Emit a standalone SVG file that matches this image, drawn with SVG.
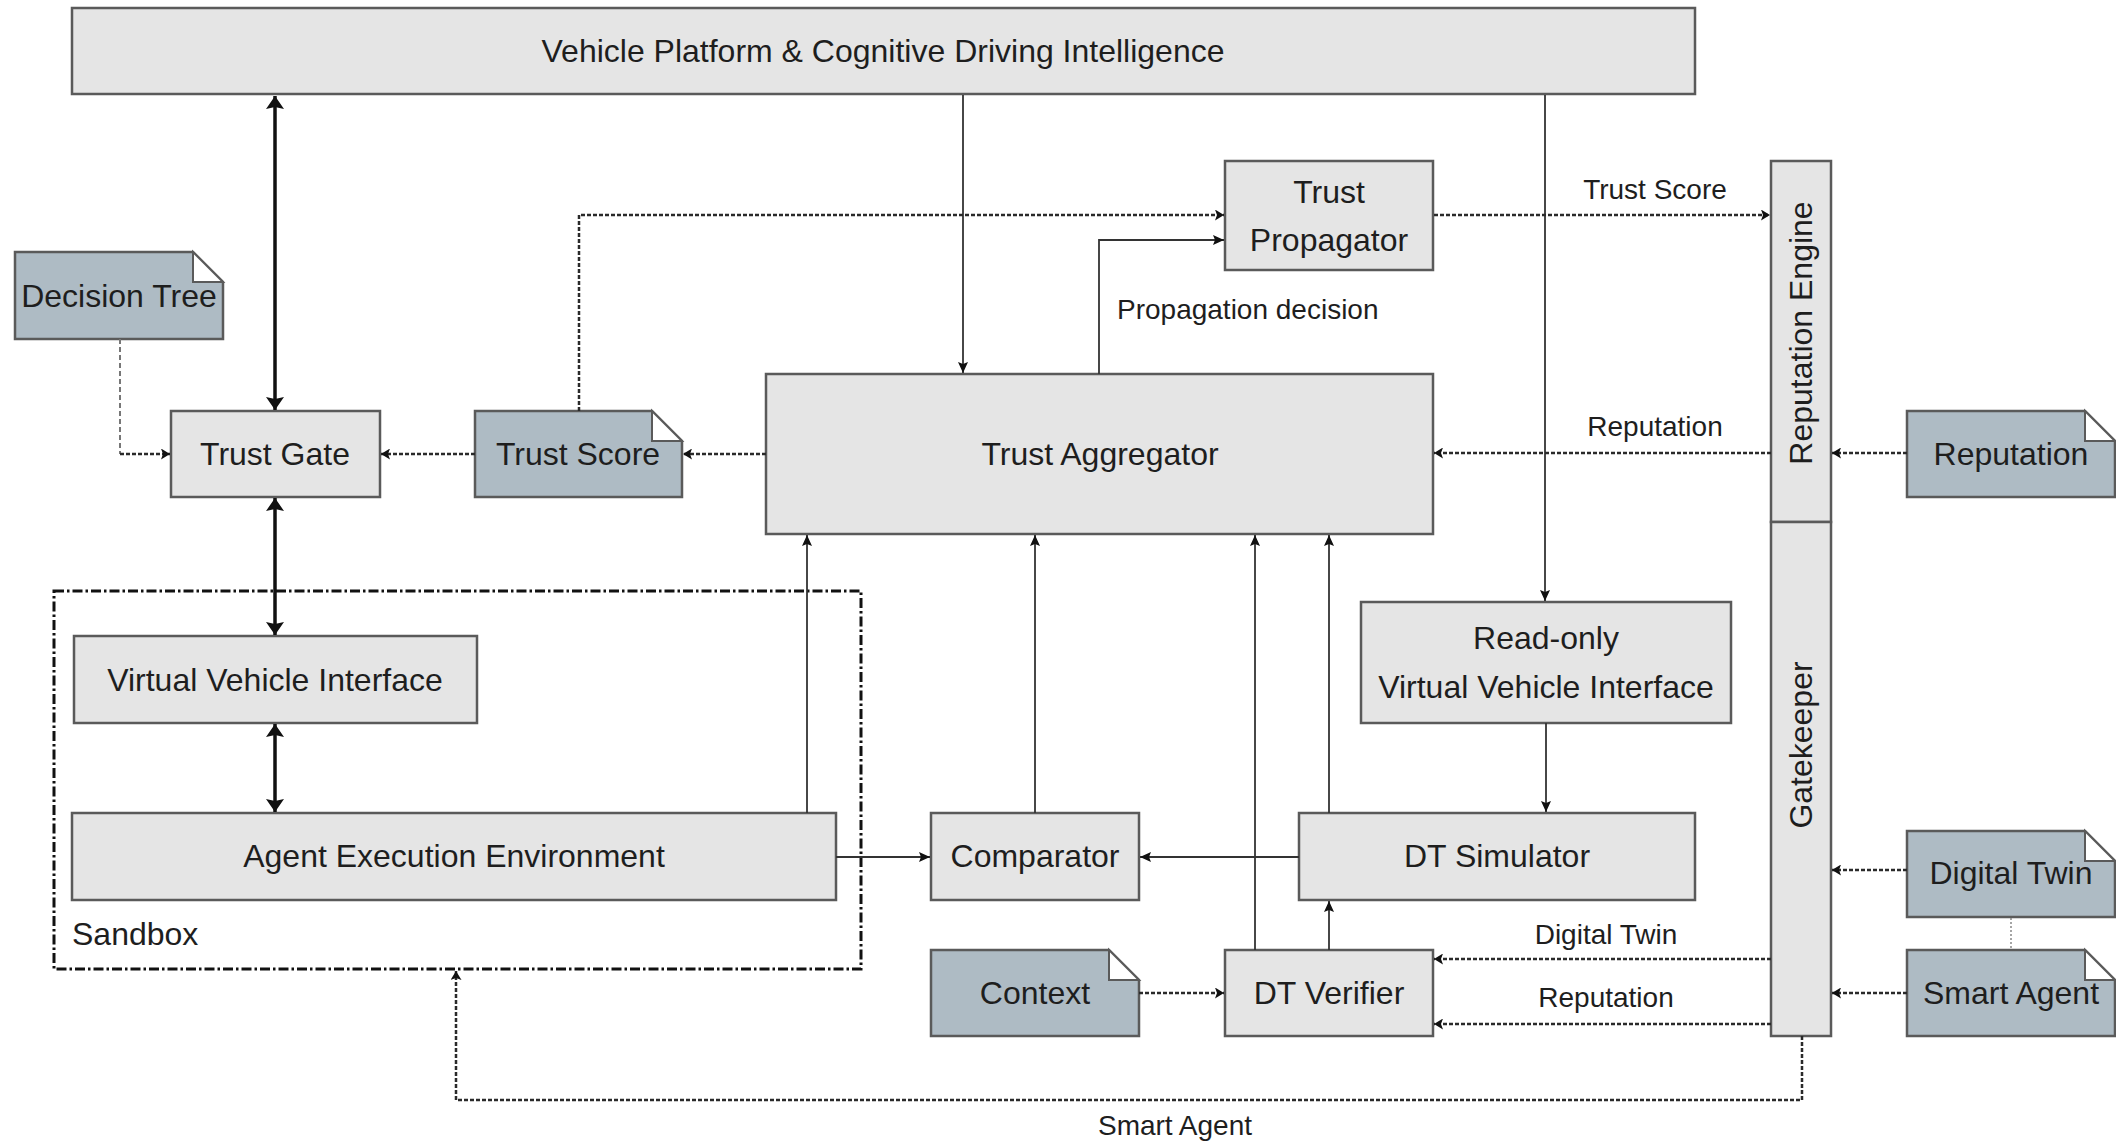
<svg xmlns="http://www.w3.org/2000/svg" width="2116" height="1141" viewBox="0 0 2116 1141">
<style>
  .box{fill:#e5e5e5;stroke:#5a5a5a;stroke-width:2.5}
  .doc{fill:#aebbc4;stroke:#5a5a5a;stroke-width:2.5}
  .fold{fill:#ffffff;stroke:#5a5a5a;stroke-width:2}
  .t{font-family:"Liberation Sans",Arial,sans-serif;font-size:32px;fill:#1e1e1e;text-anchor:middle}
  .lbl{font-family:"Liberation Sans",Arial,sans-serif;font-size:28px;fill:#1e1e1e;text-anchor:middle}
  .thick{fill:none;stroke:#111;stroke-width:3.5;marker-start:url(#ak);marker-end:url(#ak)}
  .solid{fill:none;stroke:#333;stroke-width:1.8;marker-end:url(#as)}
  .dot{fill:none;stroke:#2a2a2a;stroke-width:2.5;stroke-dasharray:4 2;marker-end:url(#ad)}
  .sandbox{fill:none;stroke:#111;stroke-width:3;stroke-dasharray:10 3 2.5 3}
</style>
<defs>
  <marker id="ak" viewBox="0 0 14 18" refX="13" refY="9" markerWidth="14" markerHeight="18" markerUnits="userSpaceOnUse" orient="auto-start-reverse">
    <path d="M0,0 L13,9 L0,18 L2,9 z" fill="#111"/>
  </marker>
  <marker id="as" viewBox="0 0 12 10" refX="11" refY="5" markerWidth="12" markerHeight="10" markerUnits="userSpaceOnUse" orient="auto-start-reverse">
    <path d="M0,0 L11,5 L0,10 L2,5 z" fill="#111"/>
  </marker>
  <marker id="ad" viewBox="0 0 10 11" refX="9" refY="5.5" markerWidth="10" markerHeight="11" markerUnits="userSpaceOnUse" orient="auto-start-reverse">
    <path d="M0,0 L9,5.5 L0,11 L2,5.5 z" fill="#111"/>
  </marker>
</defs>
<rect width="2116" height="1141" fill="#ffffff"/>

<g id="sandbox">
  <rect class="sandbox" x="54" y="591" width="807" height="378"/>
  <text class="t" x="72" y="945" style="text-anchor:start">Sandbox</text>
</g>

<g id="vehicle-platform">
  <rect class="box" x="72" y="8" width="1623" height="86"/>
  <text class="t" x="883" y="62">Vehicle Platform &amp; Cognitive Driving Intelligence</text>
</g>

<g id="decision-tree">
  <path class="doc" d="M15,252 H193 L223,282 V339 H15 Z"/>
  <path class="fold" d="M193,252 V282 H223 Z"/>
  <text class="t" x="119" y="307">Decision Tree</text>
</g>

<g id="trust-gate">
  <rect class="box" x="171" y="411" width="209" height="86"/>
  <text class="t" x="275" y="465">Trust Gate</text>
</g>

<g id="trust-score">
  <path class="doc" d="M475,411 H652 L682,441 V497 H475 Z"/>
  <path class="fold" d="M652,411 V441 H682 Z"/>
  <text class="t" x="578" y="465">Trust Score</text>
</g>

<g id="trust-aggregator">
  <rect class="box" x="766" y="374" width="667" height="160"/>
  <text class="t" x="1100" y="465">Trust Aggregator</text>
</g>

<g id="trust-propagator">
  <rect class="box" x="1225" y="161" width="208" height="109"/>
  <text class="t" x="1329" y="203">Trust</text>
  <text class="t" x="1329" y="251">Propagator</text>
</g>

<g id="reputation-engine">
  <rect class="box" x="1771" y="161" width="60" height="361"/>
  <text class="t" transform="translate(1812,333) rotate(-90)" x="0" y="0">Reputation Engine</text>
</g>

<g id="gatekeeper">
  <rect class="box" x="1771" y="522" width="60" height="514"/>
  <text class="t" transform="translate(1812,745) rotate(-90)" x="0" y="0">Gatekeeper</text>
</g>

<g id="reputation-doc">
  <path class="doc" d="M1907,411 H2085 L2115,441 V497 H1907 Z"/>
  <path class="fold" d="M2085,411 V441 H2115 Z"/>
  <text class="t" x="2011" y="465">Reputation</text>
</g>

<g id="virtual-vehicle-interface">
  <rect class="box" x="74" y="636" width="403" height="87"/>
  <text class="t" x="275" y="691">Virtual Vehicle Interface</text>
</g>

<g id="agent-execution-environment">
  <rect class="box" x="72" y="813" width="764" height="87"/>
  <text class="t" x="454" y="867">Agent Execution Environment</text>
</g>

<g id="readonly-vvi">
  <rect class="box" x="1361" y="602" width="370" height="121"/>
  <text class="t" x="1546" y="649">Read-only</text>
  <text class="t" x="1546" y="698">Virtual Vehicle Interface</text>
</g>

<g id="comparator">
  <rect class="box" x="931" y="813" width="208" height="87"/>
  <text class="t" x="1035" y="867">Comparator</text>
</g>

<g id="dt-simulator">
  <rect class="box" x="1299" y="813" width="396" height="87"/>
  <text class="t" x="1497" y="867">DT Simulator</text>
</g>

<g id="context">
  <path class="doc" d="M931,950 H1109 L1139,980 V1036 H931 Z"/>
  <path class="fold" d="M1109,950 V980 H1139 Z"/>
  <text class="t" x="1035" y="1004">Context</text>
</g>

<g id="dt-verifier">
  <rect class="box" x="1225" y="950" width="208" height="86"/>
  <text class="t" x="1329" y="1004">DT Verifier</text>
</g>

<g id="digital-twin-doc">
  <path class="doc" d="M1907,831 H2085 L2115,861 V917 H1907 Z"/>
  <path class="fold" d="M2085,831 V861 H2115 Z"/>
  <text class="t" x="2011" y="884">Digital Twin</text>
</g>

<g id="smart-agent-doc">
  <path class="doc" d="M1907,950 H2085 L2115,980 V1036 H1907 Z"/>
  <path class="fold" d="M2085,950 V980 H2115 Z"/>
  <text class="t" x="2011" y="1004">Smart Agent</text>
</g>

<g id="connectors">
  <path class="thick" d="M275,96 V410"/>
  <path class="thick" d="M275,498 V635"/>
  <path class="thick" d="M275,724 V812"/>

  <path class="solid" d="M963,95 V373"/>
  <path class="solid" d="M1545,95 V601"/>
  <path class="solid" d="M1099,374 V240 H1224"/>
  <path class="solid" d="M807,813 V535"/>
  <path class="solid" d="M1035,813 V535"/>
  <path class="solid" d="M1255,950 V535"/>
  <path class="solid" d="M1329,813 V535"/>
  <path class="solid" d="M836,857 H930"/>
  <path class="solid" d="M1299,857 H1140"/>
  <path class="solid" d="M1546,723 V812"/>
  <path class="solid" d="M1329,950 V901"/>

  <path class="dot" d="M579,411 V215 H1224"/>
  <path class="dot" d="M1434,215 H1770"/>
  <path class="dot" d="M1771,453 H1434"/>
  <path class="dot" d="M1907,453 H1832"/>
  <path class="dot" d="M766,454 H683"/>
  <path class="dot" d="M475,454 H381"/>
  <path d="M120,339 V454" fill="none" stroke="#777" stroke-width="2" stroke-dasharray="5 3"/>
  <path class="dot" d="M120,454 H170"/>
  <path class="dot" d="M1139,993 H1224"/>
  <path class="dot" d="M1771,959 H1434"/>
  <path class="dot" d="M1771,1024 H1434"/>
  <path class="dot" d="M1907,870 H1832"/>
  <path class="dot" d="M1907,993 H1832"/>
  <path class="dot" d="M1802,1036 V1100 H456 V971"/>
  <path d="M2011,918 V950" fill="none" stroke="#888" stroke-width="1.5" stroke-dasharray="2 2"/>

  <text class="lbl" x="1117" y="319" style="text-anchor:start">Propagation decision</text>
  <text class="lbl" x="1655" y="199">Trust Score</text>
  <text class="lbl" x="1655" y="436">Reputation</text>
  <text class="lbl" x="1606" y="944">Digital Twin</text>
  <text class="lbl" x="1606" y="1007">Reputation</text>
  <text class="lbl" x="1175" y="1135">Smart Agent</text>
</g>
</svg>
